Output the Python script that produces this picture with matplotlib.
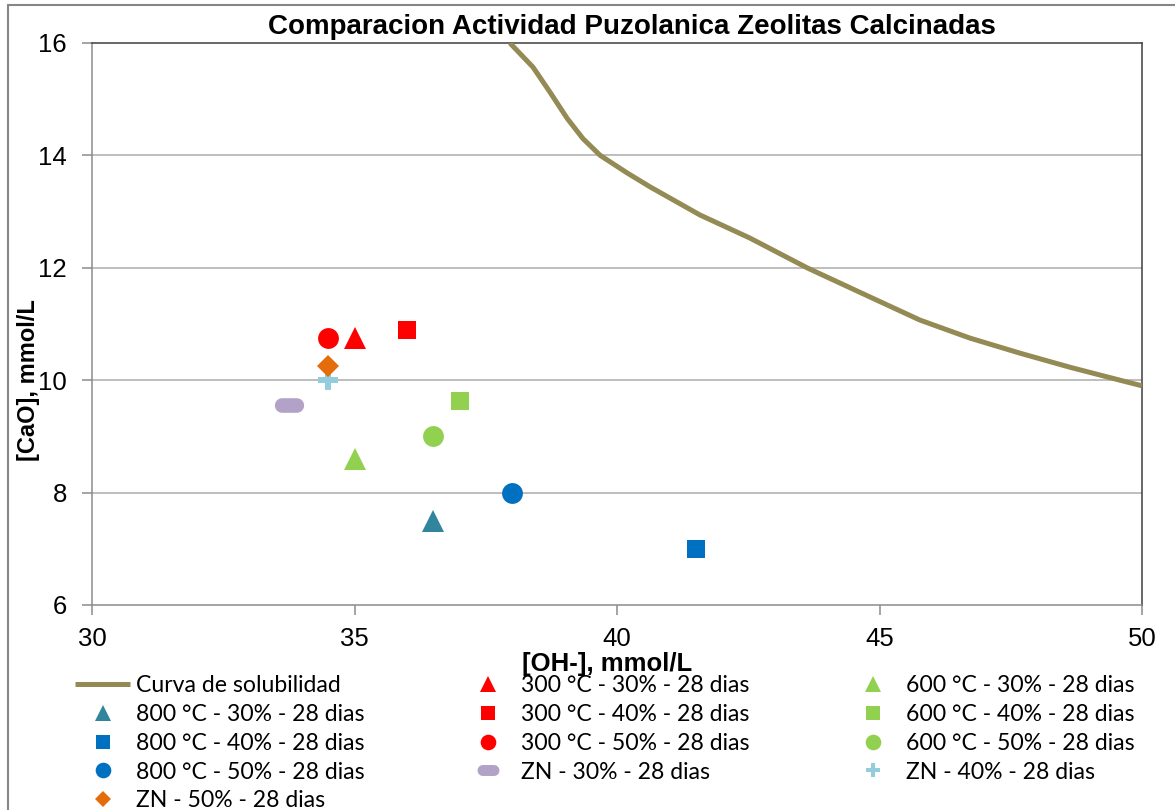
import numpy as np
import matplotlib
matplotlib.use('Agg')
import matplotlib.pyplot as plt
from matplotlib.path import Path
from matplotlib.patches import Rectangle

# curva de solubilidad
curva_oh = [37.96, 38.40, 38.72, 39.05, 39.35, 39.68, 40.19, 40.63, 41.58, 42.53, 43.62,
            44.82, 45.77, 46.72, 47.68, 48.63, 49.58, 50.0]
curva_cao = [16.0, 15.57, 15.13, 14.66, 14.30, 14.0, 13.69, 13.44, 12.94, 12.53, 12.0,
             11.48, 11.07, 10.75, 10.48, 10.23, 10.0, 9.9]

# muestras (orden de series como en Excel)
labels = ['300 °C - 30% - 28 dias', '600 °C - 30% - 28 dias', '800 °C - 30% - 28 dias',
          '300 °C - 40% - 28 dias', '600 °C - 40% - 28 dias', '800 °C - 40% - 28 dias',
          '300 °C - 50% - 28 dias', '600 °C - 50% - 28 dias', '800 °C - 50% - 28 dias',
          'ZN - 30% - 28 dias', 'ZN - 40% - 28 dias', 'ZN - 50% - 28 dias']
oh = [35.0, 35.0, 36.5, 36.0, 37.0, 41.5, 34.5, 36.5, 38.0, 33.75, 34.5, 34.5]
cao = [10.75, 8.6, 7.5, 10.9, 9.63, 7.0, 10.75, 9.0, 8.0, 9.55, 10.0, 10.25]

xticks = [30, 35, 40, 45, 50]
yticks = [6, 8, 10, 12, 14, 16]

# marcador tipo "pastilla" para ZN 30%
t = np.linspace(-np.pi / 2, np.pi / 2, 20)
right = np.column_stack([0.5 + 0.5 * np.cos(t), 0.5 * np.sin(t)])
left = np.column_stack([-0.5 - 0.5 * np.cos(t), -0.5 * np.sin(t)])
pill = Path(np.vstack([right, left, right[:1]]), closed=True)

styles = [('^', '#FF0000', 15.5), ('^', '#92D050', 15.5), ('^', '#31859C', 15.5),
          ('s', '#FF0000', 13.5), ('s', '#92D050', 13.5), ('s', '#0070C0', 13.5),
          ('o', '#FF0000', 15), ('o', '#92D050', 15), ('o', '#0070C0', 15),
          (pill, '#B3A2C7', 21), ('P', '#93CDDD', 14), ('D', '#E46C0A', 11.5)]

W, H = 1175, 810
fig = plt.figure(figsize=(W / 100, H / 100), dpi=100)
ax = fig.add_axes([92 / W, 1 - 605 / H, 1050 / W, 562 / H])

handles = []
h, = ax.plot(curva_oh, curva_cao, color='#948A54', lw=3.6, label='Curva de solubilidad',
             solid_capstyle='butt', solid_joinstyle='round', zorder=3)
handles.append(h)
for i in range(len(labels)):
    m, c, s = styles[i]
    h, = ax.plot([oh[i]], [cao[i]], linestyle='none', marker=m, color=c, markersize=s,
                 markeredgewidth=0, label=labels[i], zorder=4)
    handles.append(h)

ax.set_xlim(30, 50)
ax.set_ylim(6, 16)
ax.set_xticks(xticks)
ax.set_yticks(yticks)
ax.tick_params(axis='both', direction='out', length=7, width=1.1, color='#8C8C8C',
               labelsize=18.5, labelcolor='black')
ax.tick_params(axis='y', pad=11)
ax.tick_params(axis='x', pad=9)
for tl in ax.get_xticklabels() + ax.get_yticklabels():
    tl.set_family('Liberation Sans')

for y in [8, 10, 12, 14]:
    ax.axhline(y, color='#B3B3B3', lw=1.2, zorder=1)

ax.spines['left'].set_color('#8C8C8C')
ax.spines['bottom'].set_color('#8C8C8C')
ax.spines['top'].set_color('#3F3F3F')
ax.spines['right'].set_color('#3F3F3F')
for sp in ax.spines.values():
    sp.set_linewidth(1.1)

ax.set_xlabel('[OH-], mmol/L', fontsize=18.5, fontweight='bold', family='Liberation Sans')
ax.xaxis.set_label_coords((607 - 92) / 1050, (605 - 652) / 562)
ax.set_ylabel('[CaO], mmol/L', fontsize=17, fontweight='bold', family='Liberation Sans')
ax.yaxis.set_label_coords((40 - 92) / 1050, (605 - 380) / 562)

fig.text(632 / W, 1 - 27 / H, 'Comparacion Actividad Puzolanica Zeolitas Calcinadas',
         ha='center', va='center', fontsize=20, fontweight='bold', family='Liberation Sans')

# borde exterior del grafico
fig.patches.append(Rectangle((8 / W, -0.1), 2, 1.1 - 5 / H, transform=fig.transFigure,
                             fill=False, edgecolor='#868686', lw=1.5))

# leyenda en tres columnas, ordenada por filas como en Excel
order = [0, 3, 6, 9, 12], [1, 4, 7, 10], [2, 5, 8, 11]
col_x = [75, 460, 845]
for k, idx in enumerate(order):
    leg = fig.legend([handles[j] for j in idx], [handles[j].get_label() for j in idx],
                     loc='upper left', bbox_to_anchor=(col_x[k] / W, 1 - 675 / H),
                     frameon=False, borderpad=0, borderaxespad=0, handlelength=2.39,
                     handletextpad=0.26, labelspacing=0.34, markerscale=0.75,
                     prop={'family': 'Lato', 'size': 16.6})

fig.savefig('out.png', dpi=100)
